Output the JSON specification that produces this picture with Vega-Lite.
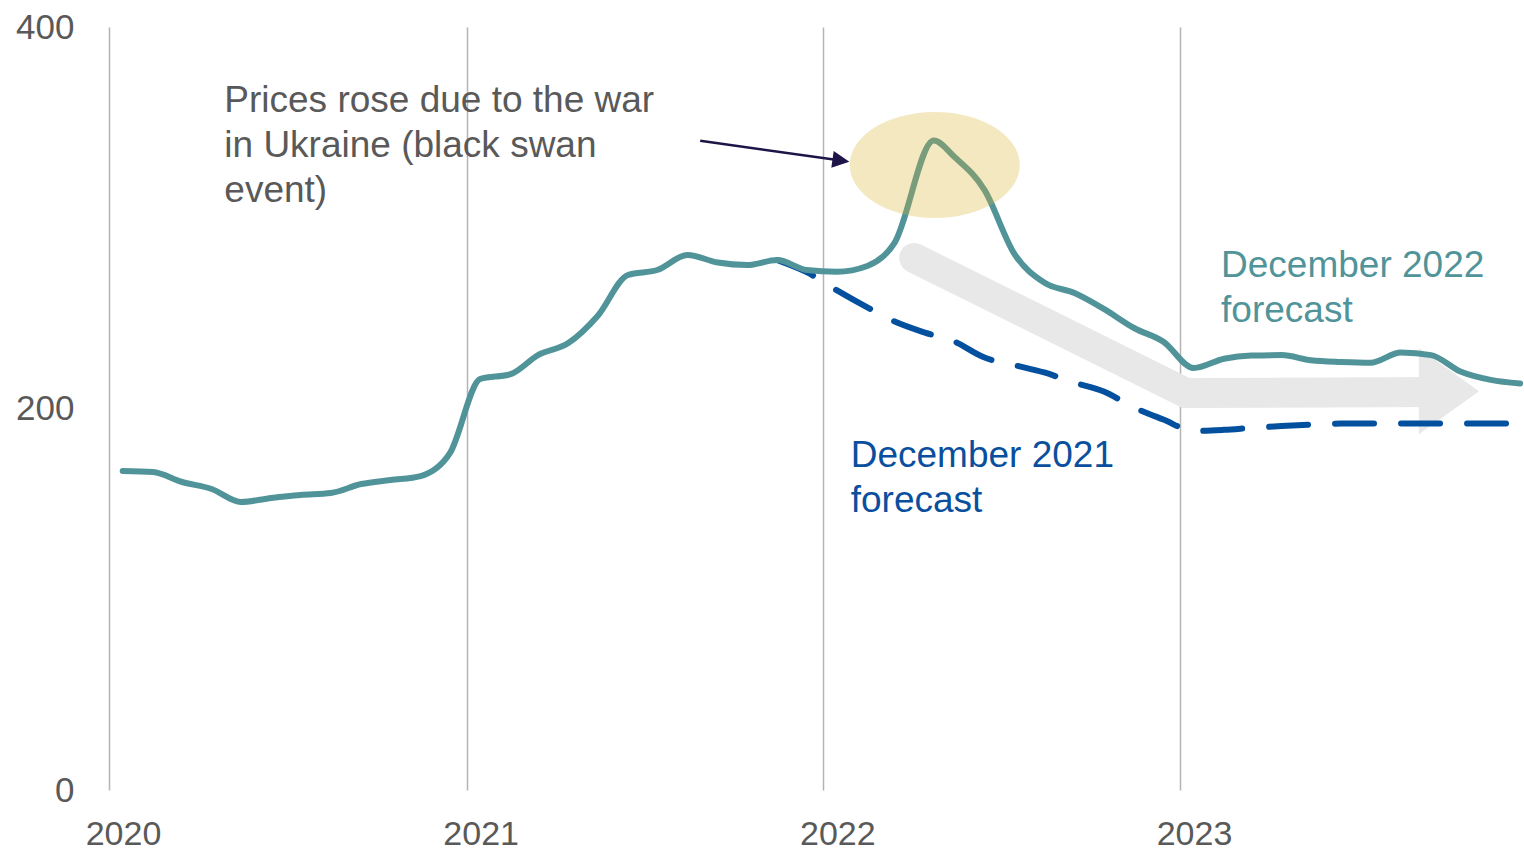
{
  "$schema": "https://vega.github.io/schema/vega-lite/v6.json",
  "width": 1415,
  "height": 763,
  "autosize": {"type": "none"},
  "padding": {"left": 109, "top": 27, "right": 0, "bottom": 60},
  "background": "white",
  "config": {
    "view": {"stroke": null},
    "font": "Liberation Sans"
  },
  "datasets": {
    "actual": [
      {"date": "2020-01-15", "value": 167.2},
      {"date": "2020-02-15", "value": 166.7},
      {"date": "2020-03-15", "value": 161.6},
      {"date": "2020-04-15", "value": 157.8},
      {"date": "2020-05-15", "value": 151.0},
      {"date": "2020-06-15", "value": 153.1},
      {"date": "2020-07-15", "value": 154.7},
      {"date": "2020-08-15", "value": 155.7},
      {"date": "2020-09-15", "value": 160.4},
      {"date": "2020-10-15", "value": 162.5},
      {"date": "2020-11-15", "value": 164.6},
      {"date": "2020-12-15", "value": 176.7},
      {"date": "2021-01-15", "value": 215.5},
      {"date": "2021-02-15", "value": 218.0},
      {"date": "2021-03-15", "value": 228.0},
      {"date": "2021-04-15", "value": 234.3},
      {"date": "2021-05-15", "value": 248.5},
      {"date": "2021-06-15", "value": 270.0},
      {"date": "2021-07-15", "value": 272.6},
      {"date": "2021-08-15", "value": 280.5},
      {"date": "2021-09-15", "value": 276.5},
      {"date": "2021-10-15", "value": 275.2},
      {"date": "2021-11-15", "value": 277.8},
      {"date": "2021-12-15", "value": 272.6},
      {"date": "2022-01-15", "value": 271.7},
      {"date": "2022-02-15", "value": 274.7},
      {"date": "2022-03-15", "value": 287.0},
      {"date": "2022-04-24", "value": 340.5},
      {"date": "2022-05-15", "value": 332.0},
      {"date": "2022-06-15", "value": 314.5},
      {"date": "2022-07-15", "value": 281.5},
      {"date": "2022-08-15", "value": 266.0},
      {"date": "2022-09-15", "value": 260.5},
      {"date": "2022-10-15", "value": 252.2},
      {"date": "2022-11-15", "value": 242.2},
      {"date": "2022-12-15", "value": 235.0},
      {"date": "2023-01-15", "value": 221.2},
      {"date": "2023-02-15", "value": 226.1},
      {"date": "2023-03-15", "value": 227.8},
      {"date": "2023-04-15", "value": 228.0},
      {"date": "2023-05-15", "value": 225.3},
      {"date": "2023-06-15", "value": 224.4},
      {"date": "2023-07-15", "value": 224.0},
      {"date": "2023-08-15", "value": 229.4},
      {"date": "2023-09-15", "value": 228.0},
      {"date": "2023-10-15", "value": 219.4},
      {"date": "2023-11-15", "value": 215.0},
      {"date": "2023-12-15", "value": 213.1}
    ],
    "forecast2021": [
      {"date": "2021-11-15", "value": 277.8},
      {"date": "2021-12-15", "value": 271.5},
      {"date": "2022-01-15", "value": 261.9},
      {"date": "2022-02-15", "value": 253.0},
      {"date": "2022-03-15", "value": 245.6},
      {"date": "2022-04-15", "value": 239.8},
      {"date": "2022-05-15", "value": 235.1},
      {"date": "2022-06-15", "value": 226.7},
      {"date": "2022-07-15", "value": 222.8},
      {"date": "2022-08-15", "value": 218.9},
      {"date": "2022-09-15", "value": 213.5},
      {"date": "2022-10-15", "value": 208.9},
      {"date": "2022-11-15", "value": 200.5},
      {"date": "2022-12-15", "value": 194.2},
      {"date": "2023-01-15", "value": 188.2},
      {"date": "2023-02-15", "value": 188.8},
      {"date": "2023-03-15", "value": 189.8},
      {"date": "2023-04-15", "value": 190.8},
      {"date": "2023-05-15", "value": 191.6},
      {"date": "2023-06-15", "value": 192.1},
      {"date": "2023-07-15", "value": 192.1},
      {"date": "2023-08-15", "value": 192.1},
      {"date": "2023-09-15", "value": 192.1},
      {"date": "2023-10-15", "value": 192.1},
      {"date": "2023-11-15", "value": 192.1},
      {"date": "2023-12-15", "value": 192.1}
    ],
    "trendShaft": [
      {"date": "2022-04-04", "value": 278.9},
      {"date": "2023-01-07", "value": 208.1},
      {"date": "2023-09-23", "value": 208.7}
    ],
    "trendHead": [
      {"date": "2023-09-20", "value": 209.0}
    ],
    "highlight": [
      {"date": "2022-04-25", "value": 327.7}
    ],
    "pointer": [
      {"date": "2021-08-28", "value": 340.4},
      {"date": "2022-01-19", "value": 330.0}
    ],
    "pointerHead": [
      {"date": "2022-01-19", "value": 330.0}
    ],
    "labels": [
      {"id": "note", "date": "2020-04-28", "value": 355.4, "text": "Prices rose due to the war\nin Ukraine (black swan\nevent)"},
      {"id": "f2021", "date": "2022-01-29", "value": 169.2, "text": "December 2021\nforecast"},
      {"id": "f2022", "date": "2023-02-12", "value": 269.1, "text": "December 2022\nforecast"}
    ]
  },
  "encoding": {
    "x": {
      "field": "date",
      "type": "temporal",
      "scale": {"domain": ["2020-01-01", "2023-12-19"]},
      "axis": {
        "title": null,
        "values": [
          {"year": 2020, "month": 1, "date": 1},
          {"year": 2021, "month": 1, "date": 1},
          {"year": 2022, "month": 1, "date": 1},
          {"year": 2023, "month": 1, "date": 1}
        ],
        "format": "%Y",
        "grid": true,
        "gridColor": "#b4b4b4",
        "gridWidth": 1.5,
        "domain": false,
        "ticks": false,
        "labelFlush": false,
        "labelPadding": 27,
        "labelOffset": 14,
        "labelFontSize": 34,
        "labelColor": "#595959",
        "labelFont": "Liberation Sans"
      }
    },
    "y": {
      "field": "value",
      "type": "quantitative",
      "scale": {"domain": [0, 400], "nice": false, "zero": true},
      "axis": {
        "title": null,
        "values": [0, 200, 400],
        "grid": false,
        "domain": false,
        "ticks": false,
        "labelPadding": 35,
        "labelFontSize": 35,
        "labelColor": "#595959",
        "labelFont": "Liberation Sans"
      }
    }
  },
  "layer": [
    {
      "data": {"name": "trendShaft"},
      "mark": {"type": "line", "color": "#e8e8e8", "strokeWidth": 30, "strokeCap": "round", "strokeJoin": "miter"}
    },
    {
      "data": {"name": "trendHead"},
      "mark": {"type": "point", "filled": true, "opacity": 1, "color": "#e8e8e8", "strokeWidth": 0, "size": 7396, "shape": "M -0.4 -1 L 1 0 L -0.4 1 Z"}
    },
    {
      "data": {"name": "forecast2021"},
      "mark": {"type": "line", "color": "#03509f", "strokeWidth": 6, "strokeDash": [39, 27], "strokeCap": "round", "interpolate": "monotone"}
    },
    {
      "data": {"name": "actual"},
      "mark": {"type": "line", "color": "#50949a", "strokeWidth": 6, "strokeCap": "round", "interpolate": "monotone"}
    },
    {
      "data": {"name": "highlight"},
      "mark": {"type": "point", "filled": true, "opacity": 0.3, "color": "#dcb332", "strokeWidth": 0, "size": 28900, "shape": "M 1 0 C 1 0.3444 0.5523 0.6235 0 0.6235 C -0.5523 0.6235 -1 0.3444 -1 0 C -1 -0.3444 -0.5523 -0.6235 0 -0.6235 C 0.5523 -0.6235 1 -0.3444 1 0 Z"}
    },
    {
      "data": {"name": "pointer"},
      "mark": {"type": "line", "color": "#1e1447", "strokeWidth": 2.5}
    },
    {
      "data": {"name": "pointerHead"},
      "mark": {"type": "point", "filled": true, "opacity": 1, "color": "#1e1447", "strokeWidth": 0, "size": 289, "angle": 8, "shape": "M -1 -1 L 1 0 L -1 1 Z"}
    },
    {
      "data": {"name": "labels"},
      "transform": [{"filter": "datum.id === 'note'"}],
      "mark": {"type": "text", "align": "left", "baseline": "alphabetic", "lineBreak": "\n", "lineHeight": 45, "fontSize": 37, "font": "Liberation Sans", "color": "#595959"},
      "encoding": {"text": {"field": "text"}}
    },
    {
      "data": {"name": "labels"},
      "transform": [{"filter": "datum.id === 'f2021'"}],
      "mark": {"type": "text", "align": "left", "baseline": "alphabetic", "lineBreak": "\n", "lineHeight": 45, "fontSize": 37, "font": "Liberation Sans", "color": "#0a4f9e"},
      "encoding": {"text": {"field": "text"}}
    },
    {
      "data": {"name": "labels"},
      "transform": [{"filter": "datum.id === 'f2022'"}],
      "mark": {"type": "text", "align": "left", "baseline": "alphabetic", "lineBreak": "\n", "lineHeight": 45, "fontSize": 37, "font": "Liberation Sans", "color": "#50949a"},
      "encoding": {"text": {"field": "text"}}
    }
  ]
}
